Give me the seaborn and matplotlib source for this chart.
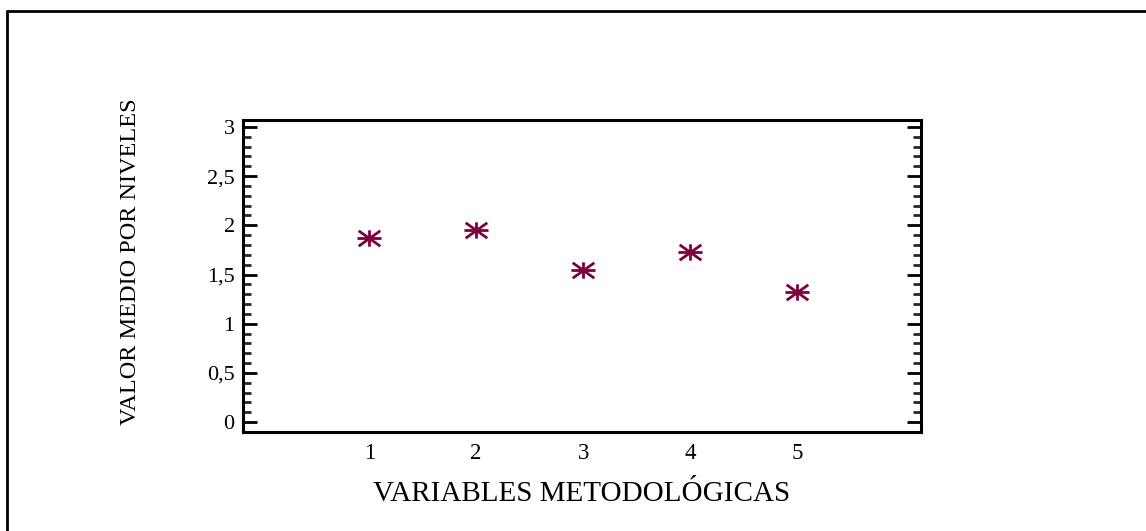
import numpy as np
import pandas as pd
import matplotlib
matplotlib.use("Agg")
import matplotlib.pyplot as plt
from matplotlib.path import Path
from matplotlib.ticker import MultipleLocator, FixedLocator, FuncFormatter
from matplotlib.lines import Line2D
import seaborn as sns

# Data
variables = [1, 2, 3, 4, 5]
valor_medio = [1.87, 1.95, 1.55, 1.73, 1.32]
x_tick_labels = ["1", "2", "3", "4", "5"]
x_label = "VARIABLES METODOLÓGICAS"
y_label = "VALOR MEDIO POR NIVELES"

df = pd.DataFrame({"variable": variables, "valor": valor_medio})

sns.set_theme(style="white")
plt.rcParams["font.family"] = ["Liberation Serif", "DejaVu Serif"]

fig = plt.figure(figsize=(11.46, 5.31), dpi=100)
ax = fig.add_axes([243 / 1146, 1 - 432 / 531, (921 - 243) / 1146, (432 - 120) / 531])

# Asterisk marker: horizontal, vertical and two diagonal strokes
star = Path(
    [(-0.5, 0), (0.5, 0), (0, -0.34), (0, 0.34),
     (-0.45, -0.32), (0.45, 0.32), (-0.45, 0.32), (0.45, -0.32)],
    [Path.MOVETO, Path.LINETO] * 4,
)

color = "#7d0040"
sns.scatterplot(data=df, x="variable", y="valor", marker=star, s=300,
                color=color, edgecolor=color, linewidth=2.0, ax=ax, legend=False)

ax.set_xlim(-0.18, 6.16)
ax.set_ylim(-0.1, 3.07)

ax.xaxis.set_major_locator(FixedLocator(variables))
ax.set_xticklabels(x_tick_labels)
ax.yaxis.set_major_locator(MultipleLocator(0.5))
ax.yaxis.set_minor_locator(MultipleLocator(0.1))
ax.yaxis.set_major_formatter(FuncFormatter(lambda v, p: f"{v:g}".replace(".", ",")))

ax.tick_params(axis="x", length=0, pad=8, labelsize=16.5, colors="black")
ax.tick_params(axis="y", which="major", direction="in", length=10, width=2,
               left=True, right=True, labelsize=16, pad=6, colors="black")
ax.tick_params(axis="y", which="minor", direction="in", length=6, width=2,
               left=True, right=True)

for sp in ax.spines.values():
    sp.set_visible(True)
    sp.set_color("black")
    sp.set_linewidth(2.2)

ax.set_xlabel(x_label, fontsize=21, color="black", labelpad=12)
ax.set_ylabel(y_label, fontsize=17.5, color="black")
ax.yaxis.set_label_coords(-0.151, 0.545)
ax.grid(False)

# Frame lines along the top and left of the figure
fig.add_artist(Line2D([7 / 1146, 1.0], [1 - 11 / 531, 1 - 11 / 531],
                      transform=fig.transFigure, color="black", linewidth=2))
fig.add_artist(Line2D([7 / 1146, 7 / 1146], [0.0, 1 - 11 / 531],
                      transform=fig.transFigure, color="black", linewidth=2))

fig.savefig("out.png", dpi=100, facecolor="white")
